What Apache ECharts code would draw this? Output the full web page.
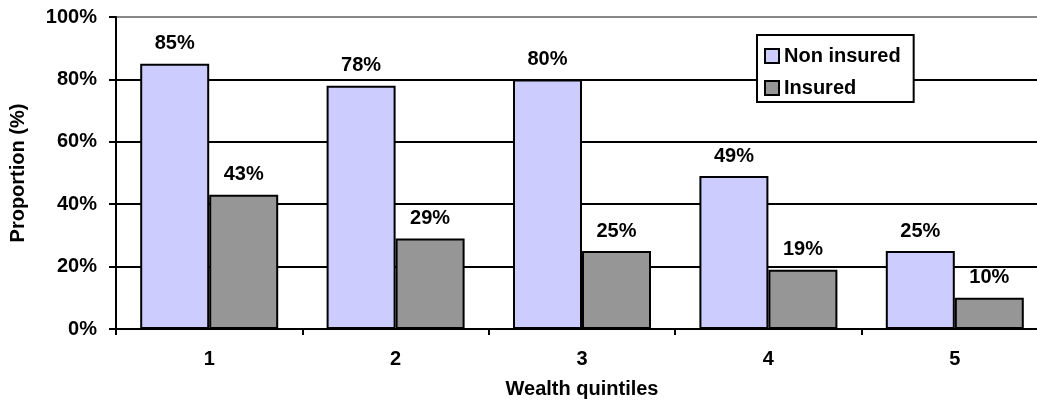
<!DOCTYPE html>
<html>
<head>
<meta charset="utf-8">
<script src="https://cdn.jsdelivr.net/npm/echarts@6/dist/echarts.min.js"></script>
<style>
  html, body { margin: 0; padding: 0; background: #fff; }
  #chart { width: 1037px; height: 405px; }
</style>
</head>
<body>
<div id="chart"></div>
<script>
var quintiles = ["1", "2", "3", "4", "5"];
var nonInsured = [85, 78, 80, 49, 25];
var insured = [43, 29, 25, 19, 10];

var myChart = echarts.init(document.getElementById("chart"));
var font = "Liberation Sans, Arial, sans-serif";

var labelStyle = {
  show: true,
  position: "top",
  distance: 10,
  formatter: "{c}%",
  color: "#000",
  fontFamily: font,
  fontWeight: "bold",
  fontSize: 20
};

var option = {
  animation: false,
  // plot area runs past the right edge of the picture
  grid: { left: 116, right: -11, top: 17, bottom: 76, outerBoundsMode: "none" },
  legend: {
    orient: "vertical",
    left: 757,
    top: 35,
    padding: [11, 13, 4, 7],
    itemGap: 12,
    itemWidth: 14,
    itemHeight: 14,
    icon: "rect",
    backgroundColor: "#fff",
    borderColor: "#000",
    borderWidth: 2,
    textStyle: { color: "#000", fontFamily: font, fontWeight: "bold", fontSize: 20 },
    data: ["Non insured", "Insured"]
  },
  xAxis: {
    type: "category",
    data: quintiles,
    name: "Wealth quintiles",
    nameLocation: "middle",
    nameGap: 50,
    nameTextStyle: { color: "#000", fontFamily: font, fontWeight: "bold", fontSize: 20 },
    axisLine: { lineStyle: { color: "#000", width: 2 } },
    axisTick: { show: true, length: 6, lineStyle: { color: "#000", width: 2 } },
    axisLabel: { color: "#000", fontFamily: font, fontWeight: "bold", fontSize: 20, margin: 20 }
  },
  yAxis: {
    type: "value",
    min: 0,
    max: 100,
    interval: 20,
    name: "Proportion (%)",
    nameLocation: "middle",
    nameGap: 88,
    nameRotate: 90,
    nameTextStyle: { color: "#000", fontFamily: font, fontWeight: "bold", fontSize: 20 },
    axisLine: { show: true, lineStyle: { color: "#000", width: 2 } },
    axisTick: { show: true, length: 7, lineStyle: { color: "#000", width: 2 } },
    axisLabel: { formatter: "{value}%", color: "#000", fontFamily: font, fontWeight: "bold", fontSize: 20, margin: 19 },
    splitLine: {
      lineStyle: {
        width: 2,
        color: ["#000", "#000", "#000", "#000", "#000", "#888"]
      }
    }
  },
  series: [
    {
      name: "Non insured",
      type: "bar",
      data: nonInsured,
      barWidth: 69,
      barGap: "0%",
      itemStyle: { color: "#ccccff", borderColor: "#000", borderWidth: 2 },
      label: labelStyle
    },
    {
      name: "Insured",
      type: "bar",
      data: insured,
      barWidth: 69,
      itemStyle: { color: "#969696", borderColor: "#000", borderWidth: 2 },
      label: labelStyle
    }
  ]
};

myChart.setOption(option);
</script>
</body>
</html>
